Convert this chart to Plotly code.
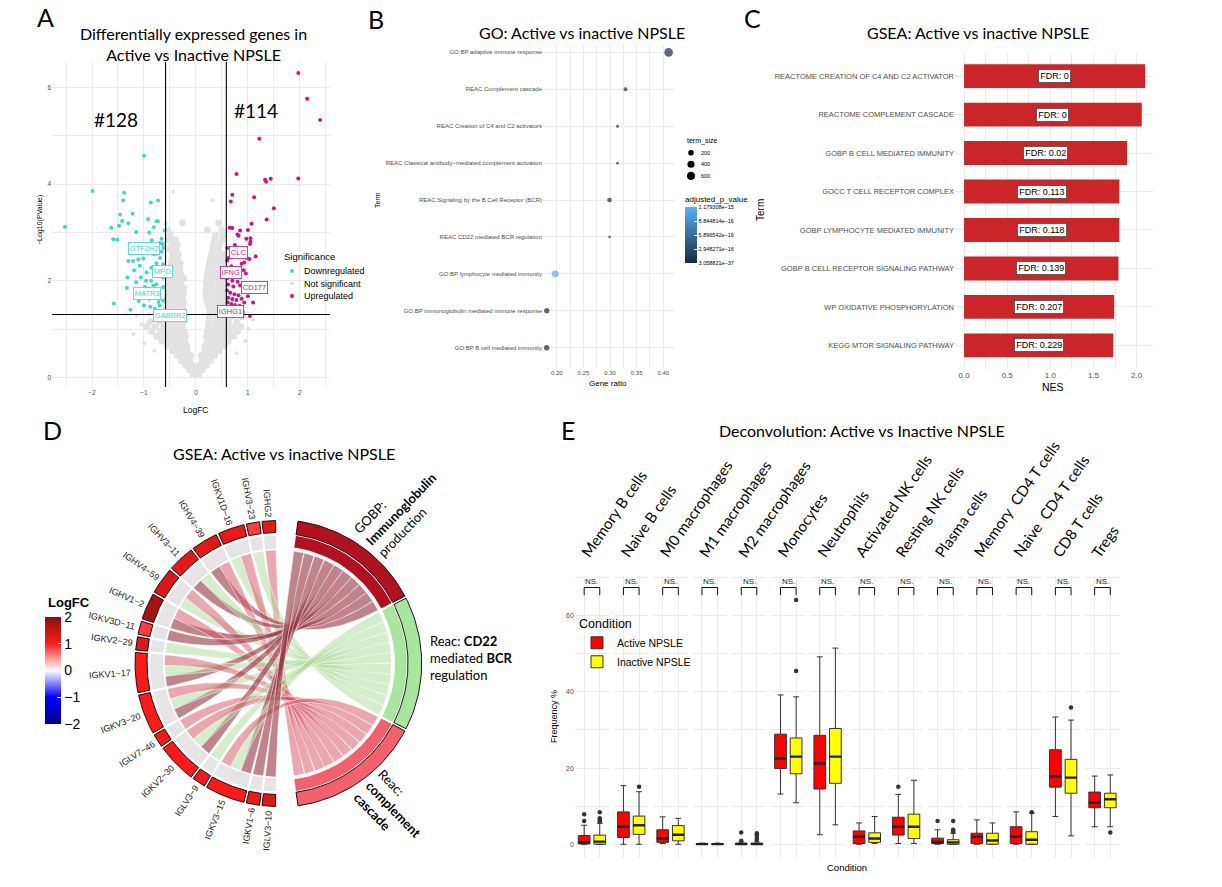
import numpy as np
import plotly.graph_objects as go
from plotly.colors import sample_colorscale

W, H = 1222, 887
def px(x): return x / W
def py(y): return 1 - y / H

HEAD = "Lato"
SANS = "Liberation Sans"
GRID = "#EBEBEB"
TXT = "#4D4D4D"

# ================= Panel A: volcano data =================
up_x = [1.97, 2.14, 2.39, 1.22, 0.78, 1.33, 1.35, 1.44, 1.97, 0.70, 0.67, 1.12, 1.50, 1.36, 1.07,
        0.65, 0.70, 0.85, 1.00, 0.80, 0.82, 0.97, 1.05, 1.05, 1.04, 0.75, 0.63, 0.73, 0.90, 0.98,
        1.03, 1.15, 0.60, 0.88, 0.93, 0.68, 0.78, 0.92, 0.96, 0.60, 0.70, 0.80, 0.62, 0.72, 0.85,
        0.95, 1.03, 0.60, 0.66, 0.74, 0.82, 0.62, 0.70, 0.78, 0.88, 1.00, 0.61, 0.68, 0.75, 0.84,
        0.93, 0.62, 0.70, 0.80, 0.90, 1.04, 0.65, 0.76, 1.10, 0.60, 0.85]
up_y = [6.30, 5.77, 5.33, 4.94, 4.21, 4.09, 4.05, 4.11, 4.12, 3.78, 3.64, 3.73, 3.50, 3.27, 3.18,
        3.10, 3.09, 3.04, 3.05, 2.96, 2.93, 2.87, 2.88, 2.81, 2.76, 2.74, 2.47, 2.52, 2.52, 2.47,
        2.45, 2.50, 2.42, 2.35, 2.38, 2.30, 2.25, 2.22, 2.15, 2.05, 2.00, 1.98, 1.92, 1.88, 1.90,
        1.84, 1.80, 1.80, 1.75, 1.72, 1.70, 1.65, 1.62, 1.60, 1.63, 1.68, 1.55, 1.52, 1.50, 1.48,
        1.55, 1.42, 1.40, 1.38, 1.36, 1.27, 1.33, 1.31, 1.55, 2.68, 2.62]
down_x = [-1.00, -1.99, -2.52, -1.38, -1.40, -0.87, -0.73, -1.46, -1.22, -1.42, -1.30, -1.48, -1.63, -0.92, -0.76,
          -0.73, -1.15, -0.81, -0.90, -0.60, -1.59, -1.51, -0.85, -0.66, -0.70, -0.80, -0.64, -0.88, -0.81, -0.76,
          -0.63, -0.69, -1.30, -1.21, -1.11, -1.01, -0.76, -0.63, -1.19, -1.08, -0.95, -0.86, -0.81, -0.71, -1.32,
          -1.15, -1.06, -0.96, -0.86, -0.76, -0.63, -1.33, -0.98, -0.92, -0.82, -0.72, -0.63, -1.15, -1.02, -0.90,
          -0.81, -0.70, -0.63, -1.58, -1.26, -1.00, -0.88, -0.79, -0.70, -0.63, -0.72, -1.10, -0.66, -0.74]
down_y = [4.59, 3.86, 3.12, 3.82, 3.66, 3.62, 3.66, 3.37, 3.39, 3.24, 3.19, 3.14, 3.10, 3.28, 3.23,
          3.23, 3.01, 3.11, 3.00, 3.04, 2.86, 2.85, 2.84, 2.87, 2.78, 2.73, 2.76, 2.58, 2.55, 2.56,
          2.68, 2.47, 2.41, 2.41, 2.44, 2.46, 2.36, 2.34, 2.22, 2.31, 2.17, 2.27, 2.24, 2.27, 2.07,
          1.97, 2.07, 2.00, 2.00, 1.93, 2.07, 1.85, 1.87, 1.84, 1.90, 1.80, 1.87, 1.73, 1.66, 1.63,
          1.66, 1.73, 1.59, 1.53, 1.40, 1.49, 1.46, 1.42, 1.49, 1.38, 1.56, 1.58, 2.60, 2.10]
# not significant genes, read row by row (y value, x values in that row)
ns_row_y = [0.05, 0.15, 0.25, 0.35, 0.45, 0.55, 0.65, 0.75, 0.85, 0.95, 1.05, 1.15, 1.25, 1.35, 1.45,
            1.55, 1.65, 1.75, 1.85, 1.95, 2.05, 2.15, 2.25, 2.35, 2.45, 2.55, 2.65, 2.75, 2.85, 2.95,
            3.05, 3.20]
ns_row_x = [
    [-0.05, 0.0, 0.05],
    [-0.12, -0.06, 0.0, 0.06, 0.12],
    [-0.2, -0.13, -0.07, 0.07, 0.13, 0.2],
    [-0.28, -0.2, -0.12, 0.12, 0.2, 0.28],
    [-0.36, -0.27, -0.18, -0.1, 0.1, 0.18, 0.27, 0.36],
    [-0.45, -0.35, -0.26, -0.17, 0.17, 0.26, 0.35, 0.45],
    [-0.55, -0.45, -0.35, -0.26, -0.18, 0.18, 0.26, 0.35, 0.45, 0.55],
    [-0.65, -0.52, -0.42, -0.32, -0.22, 0.22, 0.32, 0.42, 0.52, 0.62],
    [-0.75, -0.6, -0.48, -0.38, -0.27, -0.2, 0.2, 0.27, 0.38, 0.48, 0.6, 0.72],
    [-0.85, -0.68, -0.55, -0.44, -0.33, -0.22, 0.22, 0.33, 0.44, 0.55, 0.66, 0.8],
    [-0.95, -0.78, -0.62, -0.5, -0.38, -0.26, 0.24, 0.36, 0.48, 0.6, 0.72, 0.86],
    [-0.88, -0.7, -0.56, -0.44, -0.32, -0.24, 0.25, 0.38, 0.5, 0.62, 0.78],
    [-0.74, -0.58, -0.46, -0.34, -0.25, 0.26, 0.4, 0.52, 0.66, 0.9],
    [-0.55, -0.45, -0.35, -0.26, 0.27, 0.38, 0.5],
    [-0.56, -0.46, -0.36, -0.25, 0.26, 0.38, 0.5],
    [-0.55, -0.45, -0.34, -0.24, 0.22, 0.33, 0.45, 0.55],
    [-0.56, -0.46, -0.36, -0.26, 0.2, 0.32, 0.44, 0.55],
    [-0.55, -0.44, -0.33, -0.24, 0.19, 0.3, 0.42, 0.54],
    [-0.56, -0.45, -0.34, -0.23, 0.2, 0.3, 0.42, 0.52],
    [-0.52, -0.42, -0.3, 0.2, 0.31, 0.44, 0.55],
    [-0.54, -0.44, -0.32, -0.24, 0.21, 0.32, 0.44, 0.54],
    [-0.5, -0.4, -0.3, 0.22, 0.34, 0.46],
    [-0.52, -0.42, -0.31, 0.24, 0.36, 0.48],
    [-0.48, -0.38, -0.3, 0.26, 0.38, 0.5],
    [-0.46, -0.36, 0.28, 0.4, 0.52],
    [-0.44, -0.34, 0.3, 0.42, 0.54],
    [-0.5, -0.38, 0.32, 0.44],
    [-0.46, -0.36, 0.34, 0.46],
    [-0.52, -0.4, 0.36, 0.5],
    [-0.5, 0.38, 0.52],
    [-0.54, 0.22, 0.5],
    [-0.26, 0.44],
]
ns_extra_x = [-0.44, 0.32, -0.58, -1.14, -1.05, -1.20, 1.00, 1.10, -0.90, 0.92, -1.00, 0.95, -0.80, 0.78]
ns_extra_y = [3.85, 3.66, 3.18, 1.28, 1.10, 0.90, 1.00, 1.20, 1.30, 1.32, 0.70, 0.75, 0.55, 0.50]
deg_labels = ["GTF2H2", "MPO", "MATR3", "GABRR2", "CLC", "IFNG", "CD177", "IGHG1"]
deg_label_x = [-0.99, -0.65, -0.95, -0.50, 0.81, 0.67, 1.12, 0.67]
deg_label_y = [2.66, 2.19, 1.73, 1.28, 2.58, 2.18, 1.86, 1.37]
deg_label_dir = ["down", "down", "down", "down", "up", "up", "up", "up"]
n_down, n_up = 128, 114
logfc_cut = 0.585
p_cut = 1.301

# ================= Panel B: GO dot plot =================
go_terms = ["GO:BP adaptive immune response", "REAC Complement cascade",
            "REAC Creation of C4 and C2 activators",
            "REAC Classical antibody−mediated complement activation",
            "REAC Signaling by the B Cell Receptor (BCR)", "REAC CD22 mediated BCR regulation",
            "GO:BP lymphocyte mediated immunity", "GO:BP immunoglobulin mediated immune response",
            "GO:BP B cell mediated immunity"]
gene_ratio = [0.410, 0.329, 0.314, 0.314, 0.299, 0.299, 0.197, 0.181, 0.181]
term_size = [650, 60, 17, 10, 110, 5, 370, 170, 180]
adj_p = [3.058821e-37, 4e-17, 2e-17, 3e-17, 5e-17, 1e-17, 1.179308e-15, 1e-20, 1e-20]
size_legend = [200, 400, 600]
p_ticks = [1.179308e-15, 8.844814e-16, 5.896542e-16, 2.948271e-16, 3.058821e-37]
p_ticktext = ["1.179308e−15", "8.844814e−16", "5.896542e−16", "2.948271e−16", "3.058821e−37"]

# ================= Panel C: GSEA bars =================
gsea_terms = ["REACTOME CREATION OF C4 AND C2 ACTIVATOR", "REACTOME COMPLEMENT CASCADE",
              "GOBP B CELL MEDIATED IMMUNITY", "GOCC T CELL RECEPTOR COMPLEX",
              "GOBP LYMPHOCYTE MEDIATED IMMUNITY", "GOBP B CELL RECEPTOR SIGNALING PATHWAY",
              "WP OXIDATIVE PHOSPHORYLATION", "KEGG MTOR SIGNALING PATHWAY"]
nes = [2.10, 2.06, 1.89, 1.80, 1.80, 1.79, 1.74, 1.73]
fdr = ["0", "0", "0.02", "0.113", "0.118", "0.139", "0.207", "0.229"]

# ================= Panel D: chord =================
chord_genes = ["IGHG2", "IGHV3-23", "IGKV1D-16", "IGHV4-39", "IGHV3-11", "IGHV4-59", "IGHV1-2",
               "IGKV3D-11", "IGKV2-29", "IGKV1-17", "IGKV3-20", "IGLV7-46", "IGKV2-30", "IGLV3-9",
               "IGKV3-15", "IGKV1-6", "IGLV3-10"]
gene_logfc = [1.20, 0.85, 1.15, 1.25, 1.20, 1.30, 1.75, 0.85, 1.30, 1.00, 1.00, 1.10, 1.05, 1.10,
              1.05, 1.15, 1.30]
chord_terms = ["GOBP: Immunoglobulin production", "Reac: CD22 mediated BCR regulation",
               "Reac: complement cascade"]
# term membership of each gene (0 immunoglobulin production, 1 CD22, 2 complement)
gene_links = [[2], [1], [1, 2], [0, 2], [0, 1], [1, 2], [0, 2], [0], [1], [0, 1, 2], [0, 1, 2],
              [2], [0, 1, 2], [1], [0, 1, 2], [0], [0]]

# ================= Panel E: deconvolution boxes =================
cell_types = ["Memory B cells", "Naive B cells", "M0 macrophages", "M1 macrophages",
              "M2 macrophages", "Monocytes", "Neutrophils", "Activated NK cells",
              "Resting NK cells", "Plasma cells", "Memory  CD4 T cells", "Naive  CD4 T cells",
              "CD8 T cells", "Tregs"]
act_lo = [0.0, 0.0, 0.2, 0.0, 0.0, 13.2, 2.5, 0.0, 0.2, 0.0, 0.0, 0.0, 7.3, 4.6]
act_q1 = [0.1, 1.8, 0.5, 0.0, 0.0, 19.9, 14.5, 0.2, 2.4, 0.2, 0.2, 0.2, 15.0, 9.6]
act_med = [0.5, 4.6, 1.5, 0.05, 0.05, 22.5, 21.2, 2.0, 4.6, 0.6, 2.0, 2.0, 17.8, 10.9]
act_q3 = [2.3, 8.5, 3.8, 0.15, 0.3, 28.9, 28.6, 3.5, 7.1, 1.6, 2.9, 4.6, 24.8, 13.7]
act_hi = [5.0, 15.4, 7.2, 0.3, 0.6, 39.2, 49.2, 5.6, 13.1, 3.8, 6.4, 8.5, 33.4, 17.9]
act_out = [[6.1, 7.9], [], [], [], [0.9, 3.1], [], [], [], [15.1], [6.1], [], [], [], []]
ina_lo = [0.0, 0.0, 0.0, 0.0, 0.0, 10.9, 5.1, 0.2, 0.2, 0.0, 0.0, 0.0, 2.2, 4.6]
ina_q1 = [0.0, 2.6, 0.9, 0.0, 0.0, 18.5, 16.0, 0.5, 1.5, 0.0, 0.0, 0.0, 13.4, 9.6]
ina_med = [0.7, 5.0, 2.5, 0.05, 0.05, 23.0, 23.0, 1.5, 4.6, 0.5, 1.0, 1.2, 17.5, 11.8]
ina_q3 = [2.4, 7.4, 4.9, 0.15, 0.3, 27.9, 30.4, 3.0, 7.9, 1.2, 2.9, 3.3, 22.3, 13.4]
ina_hi = [5.5, 13.8, 6.8, 0.3, 0.6, 38.7, 51.5, 7.3, 16.8, 2.9, 5.6, 8.2, 32.6, 18.2]
ina_out = [[6.0, 6.4, 6.8, 8.4], [15.1], [], [], [1.1, 1.5, 2.2, 2.5, 2.9], [45.5, 64.1], [], [],
           [], [3.3, 3.6, 3.8, 6.1], [], [8.4], [35.9], [3.1]]
test_label = ["NS."] * 14
conditions = ["Active NPSLE", "Inactive NPSLE"]

# ======================================================================
fig = go.Figure()
ann = []
shapes = []

def pa(x, y, text, size, family=HEAD, color="black", **kw):
    d = dict(xref="paper", yref="paper", x=px(x), y=py(y), text=text, showarrow=False,
             xanchor="center", yanchor="middle", font=dict(family=family, size=size, color=color))
    d.update(kw)
    return d

# ---------------- A ----------------
ns_x = [x for row in ns_row_x for x in row]
ns_y = [ns_row_y[i] for i, row in enumerate(ns_row_x) for _ in row]
COL_DOWN, COL_UP, COL_NS = "#3ED8C8", "#D0157F", "#E2E2E2"
fig.add_trace(go.Scatter(x=ns_x, y=ns_y, mode="markers", marker=dict(color=COL_NS, size=7),
                         xaxis="x", yaxis="y", hoverinfo="skip", showlegend=False))
fig.add_trace(go.Scatter(x=ns_extra_x, y=ns_extra_y, mode="markers", marker=dict(color=COL_NS, size=4),
                         xaxis="x", yaxis="y", hoverinfo="skip", showlegend=False))
fig.add_trace(go.Scatter(x=down_x, y=down_y, mode="markers", marker=dict(color=COL_DOWN, size=4),
                         xaxis="x", yaxis="y", hoverinfo="skip", showlegend=False))
fig.add_trace(go.Scatter(x=up_x, y=up_y, mode="markers", marker=dict(color=COL_UP, size=4),
                         xaxis="x", yaxis="y", hoverinfo="skip", showlegend=False))
for xv in (-logfc_cut, logfc_cut):
    shapes.append(dict(type="line", xref="x", yref="y domain", x0=xv, x1=xv, y0=0, y1=1,
                       line=dict(color="black", width=1.1)))
shapes.append(dict(type="line", xref="x domain", yref="y", x0=0, x1=1, y0=p_cut, y1=p_cut,
                   line=dict(color="black", width=1.1)))
ann.append(dict(xref="x", yref="y", x=-1.54, y=5.34, text=f"#{n_down}", showarrow=False,
                font=dict(family=HEAD, size=19, color="black")))
ann.append(dict(xref="x", yref="y", x=1.16, y=5.52, text=f"#{n_up}", showarrow=False,
                font=dict(family=HEAD, size=19, color="black")))
for g, gx, gy, d in zip(deg_labels, deg_label_x, deg_label_y, deg_label_dir):
    c = COL_DOWN if d == "down" else COL_UP
    ann.append(dict(xref="x", yref="y", x=gx, y=gy, text=g, showarrow=False, bgcolor="white",
                    bordercolor=c, borderwidth=0.8, borderpad=1,
                    font=dict(family=SANS, size=7.5, color=c)))
ann.append(pa(193, 44, "Differentially expressed genes in<br>Active vs Inactive NPSLE", 16))
ann.append(pa(40, 220, "−Log10(PValue)", 7, family=SANS, textangle=-90))
ann.append(pa(196, 410, "LogFC", 8.5, family=SANS))
ann.append(pa(282, 256, "Significance", 9.5, family=SANS, xanchor="left"))
for k, (lab, c) in enumerate([("Downregulated", COL_DOWN), ("Not significant", COL_NS), ("Upregulated", COL_UP)]):
    yy = 271 + k * 12.5
    shapes.append(dict(type="circle", xref="paper", yref="paper", x0=px(290), x1=px(294),
                       y0=py(yy + 2), y1=py(yy - 2), fillcolor=c, line=dict(width=0)))
    ann.append(pa(302, yy, lab, 9, family=SANS, xanchor="left"))

# ---------------- B ----------------
def dot_d(s):
    return 1.93 + 0.26 * np.sqrt(s)
fig.add_trace(go.Scatter(
    x=gene_ratio, y=go_terms, mode="markers", xaxis="x2", yaxis="y2", hoverinfo="skip", showlegend=False,
    marker=dict(size=[dot_d(s) for s in term_size], color=adj_p, cmin=min(p_ticks), cmax=max(p_ticks),
                colorscale=[[0, "#132B43"], [1, "#56B1F7"]], line=dict(width=0), showscale=True,
                colorbar=dict(x=px(685), xanchor="left", y=py(193), yanchor="top", len=70, lenmode="pixels",
                              thickness=12, thicknessmode="pixels", outlinewidth=0, xpad=0, ypad=0,
                              title=dict(text="adjusted_p_value", side="top",
                                         font=dict(family=SANS, size=8, color="black")),
                              tickvals=p_ticks, ticktext=p_ticktext, ticks="inside", ticklen=3,
                              tickcolor="white", tickfont=dict(family=SANS, size=5.5, color="black")))))
ann.append(pa(582, 32, "GO: Active vs inactive NPSLE", 16))
ann.append(pa(378, 200, "Term", 7, family=SANS, textangle=-90))
ann.append(pa(608, 383, "Gene ratio", 8, family=SANS))
ann.append(pa(685, 141, "term_size", 7, family=SANS, xanchor="left"))
for k, s in enumerate(size_legend):
    yy = 152.7 + k * 11.6
    d = dot_d(s)
    shapes.append(dict(type="circle", xref="paper", yref="paper", x0=px(691 - d / 2), x1=px(691 + d / 2),
                       y0=py(yy + d / 2), y1=py(yy - d / 2), fillcolor="black", line=dict(width=0)))
    ann.append(pa(699, yy, str(s), 5.5, family=SANS, xanchor="left"))

# ---------------- C ----------------
fig.add_trace(go.Bar(x=nes, y=gsea_terms, orientation="h", marker=dict(color="#CC2529", line=dict(width=0)),
                     width=0.62, xaxis="x3", yaxis="y3", hoverinfo="skip", showlegend=False))
for t, v, f in zip(gsea_terms, nes, fdr):
    ann.append(dict(xref="x3", yref="y3", x=v / 2, y=t, text=f"FDR: {f}", showarrow=False, bgcolor="white",
                    bordercolor="#333333", borderwidth=0.7, borderpad=1.5, xanchor="center", yanchor="middle",
                    font=dict(family=SANS, size=9, color="black")))
ann.append(pa(978, 33, "GSEA: Active vs inactive NPSLE", 16))
ann.append(pa(760, 210, "Term", 10, family=SANS, textangle=-90))
ann.append(pa(1053, 387, "NES", 10.5, family=SANS))

# ---------------- D: chord ----------------
U = 5.4
GAP = 1.0
CX, CY = 278, 663.5
n_gene_links = sum(len(l) for l in gene_links)
gene_span_deg = n_gene_links * U + (len(chord_genes) - 1) * GAP
term_deg = [sum(1 for l in gene_links if t in l) for t in range(len(chord_terms))]
term_span_deg = sum(term_deg) * U + (len(chord_terms) - 1) * GAP
gene_start = 180 - gene_span_deg / 2
term_start = term_span_deg / 2
R_CH = 113.5

def arc_pts(a1, a2, r, n=36):
    t = np.radians(np.linspace(a1, a2, n))
    return list(r * np.cos(t)), list(r * np.sin(t))

def sector(a1, a2, r1, r2):
    xo, yo = arc_pts(a1, a2, r2)
    xi, yi = arc_pts(a2, a1, r1)
    return xo + xi + [xo[0]], yo + yi + [yo[0]]

def bez(a_from, a_to, r, n=50):
    t = np.linspace(0, 1, n)
    p0 = np.array([r * np.cos(np.radians(a_from)), r * np.sin(np.radians(a_from))])
    p2 = np.array([r * np.cos(np.radians(a_to)), r * np.sin(np.radians(a_to))])
    x = (1 - t) ** 2 * p0[0] + t ** 2 * p2[0]
    y = (1 - t) ** 2 * p0[1] + t ** 2 * p2[1]
    return list(x), list(y)

logfc_scale = [[0, "#00008B"], [0.25, "#0000FF"], [0.5, "#FFFFFF"], [0.75, "#FF1A1A"], [1, "#8B1010"]]
term_ring_col = ["#B2121F", "#A8E6A0", "#F4606C"]
chord_col = ["rgba(150,50,63,0.6)", "rgba(170,220,150,0.5)", "rgba(215,80,95,0.5)"]

gene_sec = []
a = gene_start
for l in gene_links:
    gene_sec.append((a, a + len(l) * U))
    a += len(l) * U + GAP
term_sec = []
a = term_start
for d in term_deg:
    term_sec.append((a - d * U, a))
    a -= d * U + GAP

gene_end = {}
for gi, l in enumerate(gene_links):
    for k, t in enumerate(sorted(l, reverse=True)):
        a1 = gene_sec[gi][0] + k * U
        gene_end[(gi, t)] = (a1, a1 + U)
term_end = {}
for t in range(len(chord_terms)):
    k = 0
    for gi in reversed(range(len(chord_genes))):
        if t in gene_links[gi]:
            top = term_sec[t][1] - k * U
            term_end[(gi, t)] = (top - U, top)
            k += 1

for gi, l in enumerate(gene_links):
    for t in l:
        ga1, ga2 = gene_end[(gi, t)]
        tb1, tb2 = term_end[(gi, t)]
        x1, y1 = arc_pts(ga1, ga2, R_CH)
        x2, y2 = bez(ga2, tb1, R_CH)
        x3, y3 = arc_pts(tb1, tb2, R_CH)
        x4, y4 = bez(tb2, ga1, R_CH)
        fig.add_trace(go.Scatter(x=x1 + x2 + x3 + x4, y=y1 + y2 + y3 + y4, mode="lines", fill="toself",
                                 fillcolor=chord_col[t], line=dict(color="rgba(255,255,255,0.9)", width=0.6),
                                 xaxis="x4", yaxis="y4", hoverinfo="skip", showlegend=False))
gene_cols = sample_colorscale(logfc_scale, [(v + 2) / 4 for v in gene_logfc])
for gi, (a1, a2) in enumerate(gene_sec):
    xs, ys = sector(a1, a2, 115, 128)
    fig.add_trace(go.Scatter(x=xs, y=ys, mode="lines", fill="toself", fillcolor="#E5E5E5",
                             line=dict(width=0), xaxis="x4", yaxis="y4", hoverinfo="skip", showlegend=False))
    xs, ys = sector(a1, a2, 131, 143)
    fig.add_trace(go.Scatter(x=xs, y=ys, mode="lines", fill="toself", fillcolor=gene_cols[gi],
                             line=dict(width=0.9, color="black"), xaxis="x4", yaxis="y4", hoverinfo="skip",
                             showlegend=False))
for t, (a1, a2) in enumerate(term_sec):
    xs, ys = sector(a1, a2, 117, 128.7)
    fig.add_trace(go.Scatter(x=xs, y=ys, mode="lines", fill="toself", fillcolor=term_ring_col[t],
                             line=dict(width=0), xaxis="x4", yaxis="y4", hoverinfo="skip", showlegend=False))
    xs, ys = sector(a1, a2, 130, 143.7)
    fig.add_trace(go.Scatter(x=xs, y=ys, mode="lines", fill="toself", fillcolor=term_ring_col[t],
                             line=dict(width=0.9, color="black"), xaxis="x4", yaxis="y4", hoverinfo="skip",
                             showlegend=False))
fig.add_trace(go.Scatter(x=[0], y=[0], mode="markers", xaxis="x4", yaxis="y4", hoverinfo="skip",
                         showlegend=False,
                         marker=dict(size=1, opacity=0, color=[0], cmin=-2, cmax=2, colorscale=logfc_scale,
                                     showscale=True,
                                     colorbar=dict(x=px(45), xanchor="left", y=py(617), yanchor="top", len=107,
                                                   lenmode="pixels", thickness=16, thicknessmode="pixels",
                                                   outlinewidth=0, xpad=0, ypad=0,
                                                   tickvals=[-2, -1, 0, 1, 2], ticks="inside", ticklen=4,
                                                   tickcolor="white",
                                                   tickfont=dict(family=SANS, size=14, color="black")))))
ann.append(pa(46, 602, "<b>LogFC</b>", 13, family=SANS, xanchor="left"))
CW = {"I": .278, "G": .778, "K": .667, "V": .667, "H": .722, "L": .556, "D": .722, "−": .584}
LAB_FS = 9
for gi, (a1, a2) in enumerate(gene_sec):
    name = chord_genes[gi].replace("-", "−")
    wlab = LAB_FS * sum(CW.get(ch, .556) for ch in name)
    th = (a1 + a2) / 2
    rc = 147 + wlab / 2
    ang = -(th + 180)
    while ang < -180:
        ang += 360
    while ang >= 180:
        ang -= 360
    ann.append(dict(xref="x4", yref="y4", x=rc * np.cos(np.radians(th)), y=rc * np.sin(np.radians(th)),
                    text=name, textangle=ang, showarrow=False, xanchor="center", yanchor="middle",
                    font=dict(family=SANS, size=LAB_FS, color="#1A1A1A")))
ann.append(pa(401, 509, "GOBP:<br><b>Immunoglobulin</b><br>production", 13, textangle=-46, align="left"))
ann.append(pa(428, 658, "Reac: <b>CD22</b><br>mediated <b>BCR</b><br>regulation", 13, xanchor="left", align="left"))
ann.append(pa(393.5, 808.5, "Reac:<br><b>complement</b><br><b>cascade</b>", 13, textangle=46, align="left"))
ann.append(pa(284, 453, "GSEA: Active vs inactive NPSLE", 16))

# ---------------- E ----------------
E_L0, E_STEP, E_UNIT = 574.8, 39.27, 15.6
E_TOP, E_BOT = 575.7, 857.6
BR_LO, BR_HI, NS_Y = 65.4, 67.4, 68.9
box_fill = ["#FF0000", "#FFFF00"]
for i, ct in enumerate(cell_types):
    xa = f"x{5 + i}"
    stats = [(act_lo, act_q1, act_med, act_q3, act_hi, act_out), (ina_lo, ina_q1, ina_med, ina_q3, ina_hi, ina_out)]
    for c, (lo, q1, md, q3, hi, out) in enumerate(stats):
        fig.add_trace(go.Box(x=[c + 1], lowerfence=[lo[i]], q1=[q1[i]], median=[md[i]], q3=[q3[i]],
                             upperfence=[hi[i]], width=0.75, fillcolor=box_fill[c],
                             line=dict(color="#333333", width=1), boxpoints=False, name=conditions[c],
                             legendgroup=conditions[c], showlegend=(i == 0), xaxis=xa, yaxis="y5",
                             hoverinfo="skip"))
        fig.add_trace(go.Scatter(x=[c + 1 - 0.375, c + 1 + 0.375], y=[md[i], md[i]], mode="lines",
                                 line=dict(color="#222222", width=2.4), xaxis=xa, yaxis="y5",
                                 hoverinfo="skip", showlegend=False))
        if out[i]:
            fig.add_trace(go.Scatter(x=[c + 1] * len(out[i]), y=out[i], mode="markers",
                                     marker=dict(color="#333333", size=4.5), xaxis=xa, yaxis="y5",
                                     hoverinfo="skip", showlegend=False))
    fig.add_trace(go.Scatter(x=[1, 1, 2, 2], y=[BR_LO, BR_HI, BR_HI, BR_LO], mode="lines",
                             line=dict(color="#111111", width=1), xaxis=xa, yaxis="y5", hoverinfo="skip",
                             showlegend=False))
    ann.append(dict(xref=xa, yref="y5", x=1.5, y=NS_Y, text=test_label[i], showarrow=False,
                    xanchor="center", yanchor="middle", font=dict(family=SANS, size=8, color="#222222")))
    cx = E_L0 + i * E_STEP + 0.6 * E_UNIT
    ann.append(pa(cx - 10, 563, ct, 15, xanchor="left", yanchor="bottom", textangle=-55))
ann.append(pa(862, 431, "Deconvolution: Active vs Inactive NPSLE", 16))
ann.append(pa(554, 717, "Frequency %", 9, family=SANS, textangle=-90))
ann.append(pa(847, 867, "Condition", 9.5, family=SANS))

for L, (lx, ly) in zip("ABCDE", [(45, 17), (376, 19), (752, 18), (52, 430), (568, 430)]):
    ann.append(pa(lx, ly, L, 25))

# ---------------- axes ----------------
def grid_axis(**kw):
    base = dict(showgrid=True, gridcolor=GRID, gridwidth=1, zeroline=False, showline=False, ticks="",
                tickfont=dict(family=SANS, size=7, color=TXT))
    base.update(kw)
    return base

D_L, D_R, D_T, D_B = 60, 480, 470, 880
lay = dict(
    width=W, height=H, margin=dict(l=0, r=0, t=0, b=0), paper_bgcolor="white", plot_bgcolor="white",
    showlegend=True,
    legend=dict(x=px(577), y=py(612), xanchor="left", yanchor="top", bgcolor="rgba(0,0,0,0)",
                title=dict(text="Condition", font=dict(family=SANS, size=12.5, color="black")),
                font=dict(family=SANS, size=10.5, color="black"), itemwidth=30, tracegroupgap=0),
    xaxis=grid_axis(domain=[px(52), px(330)], range=[-2.77, 2.58], anchor="y", tickvals=[-2, -1, 0, 1, 2],
                    minor=dict(tickvals=[-2.5, -1.5, -0.5, 0.5, 1.5, 2.5], showgrid=True, gridcolor=GRID,
                               gridwidth=0.5), tickfont=dict(family=SANS, size=6.5, color=TXT)),
    yaxis=grid_axis(domain=[py(387), py(62)], range=[-0.2, 6.53], anchor="x", tickvals=[0, 2, 4, 6],
                    minor=dict(tickvals=[1, 3, 5], showgrid=True, gridcolor=GRID, gridwidth=0.5),
                    tickfont=dict(family=SANS, size=6.5, color=TXT)),
    xaxis2=grid_axis(domain=[px(543), px(675)], range=[0.174, 0.422], anchor="y2",
                     tickvals=[0.20, 0.25, 0.30, 0.35, 0.40], ticktext=["0.20", "0.25", "0.30", "0.35", "0.40"],
                     minor=dict(tickvals=[0.175, 0.225, 0.275, 0.325, 0.375], showgrid=True, gridcolor=GRID,
                                gridwidth=0.5), tickfont=dict(family=SANS, size=6, color=TXT)),
    yaxis2=grid_axis(domain=[py(368), py(45)], type="category", categoryorder="array", categoryarray=go_terms,
                     range=[8.55, -0.2], anchor="x2", tickfont=dict(family=SANS, size=6, color=TXT)),
    xaxis3=grid_axis(domain=[px(955), px(1153)], range=[-0.105, 2.19], anchor="y3",
                     tickvals=[0, 0.5, 1, 1.5, 2], ticktext=["0.0", "0.5", "1.0", "1.5", "2.0"],
                     minor=dict(tickvals=[0.25, 0.75, 1.25, 1.75], showgrid=True, gridcolor=GRID, gridwidth=0.5),
                     tickfont=dict(family=SANS, size=8, color=TXT)),
    yaxis3=grid_axis(domain=[py(368.5), py(53)], type="category", categoryorder="array", categoryarray=gsea_terms,
                     range=[7.6, -0.6], anchor="x3", tickfont=dict(family=SANS, size=7.5, color=TXT)),
    xaxis4=dict(domain=[px(D_L), px(D_R)], range=[D_L - CX, D_R - CX], anchor="y4", visible=False, fixedrange=True),
    yaxis4=dict(domain=[py(D_B), py(D_T)], range=[CY - D_B, CY - D_T], anchor="x4", visible=False, fixedrange=True),
    yaxis5=grid_axis(domain=[py(E_BOT), py(E_TOP)], range=[-3.5, 70.5], anchor="x5", tickvals=[0, 20, 40, 60],
                     minor=dict(tickvals=[10, 30, 50, 70], showgrid=True, gridcolor=GRID, gridwidth=0.5),
                     tickfont=dict(family=SANS, size=7, color=TXT)),
)
for i in range(len(cell_types)):
    left = E_L0 + i * E_STEP
    right = left + 2.2 * E_UNIT
    lay[f"xaxis{5 + i}"] = grid_axis(domain=[px(left), px(right)], range=[0.4, 2.6], anchor="y5",
                                     tickvals=[1, 2], showticklabels=False)
fig.update_layout(**lay)
fig.update_layout(annotations=ann, shapes=shapes)
fig.write_html("out.html", config={"displayModeBar": False},
               post_script="document.body.style.margin='0px';document.body.style.overflow='hidden';")
